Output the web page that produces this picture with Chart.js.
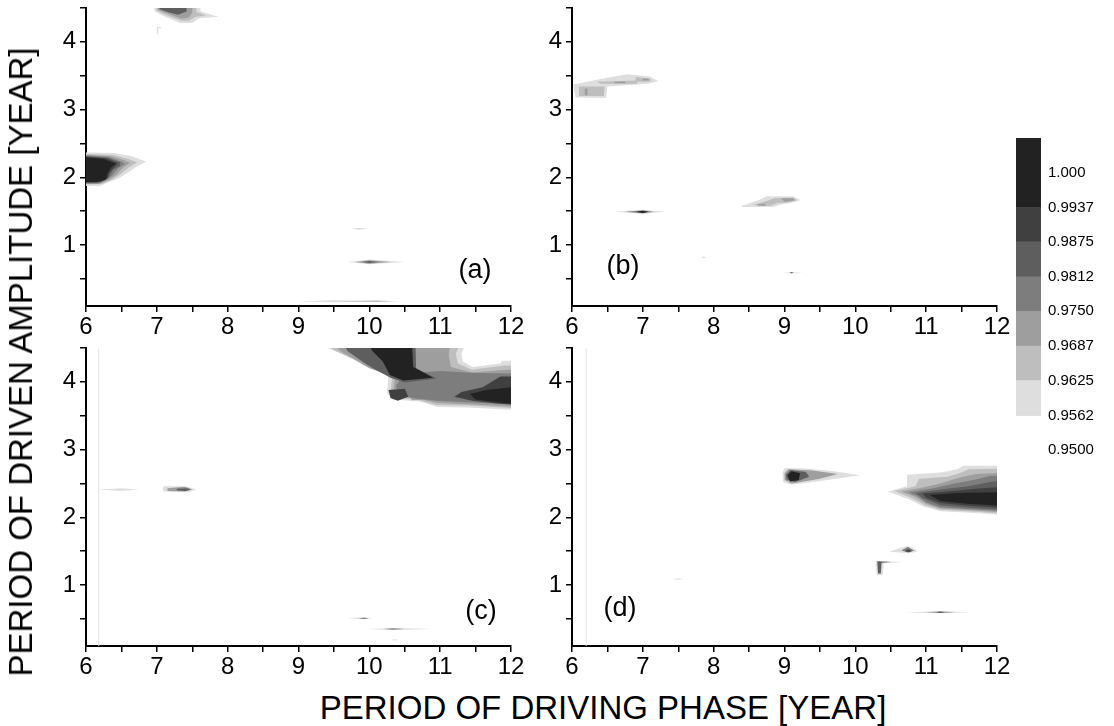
<!DOCTYPE html>
<html>
<head>
<meta charset="utf-8">
<script src="https://cdn.jsdelivr.net/npm/chart.js@4.4.1/dist/chart.umd.min.js"></script>
<style>
  body { margin: 0; background: #fff; width: 1114px; height: 726px; overflow: hidden; position: relative; font-family: "Liberation Sans", Arial, sans-serif; }
  canvas { position: absolute; }
  .tag { position: absolute; font-size: 27px; color: #000; transform: translate(-50%, -50%); white-space: nowrap; }
  .title { position: absolute; font-size: 33px; color: #000; white-space: nowrap; transform: translate(-50%, -50%); }
  #yTitle { transform: translate(-50%, -50%) rotate(-90deg); }
</style>
</head>
<body>
<canvas id="panelA" width="540" height="345" style="left:0;top:0"></canvas>
<canvas id="panelB" width="540" height="345" style="left:486px;top:0"></canvas>
<canvas id="panelC" width="540" height="345" style="left:0;top:340px"></canvas>
<canvas id="panelD" width="540" height="345" style="left:486px;top:340px"></canvas>
<canvas id="colorBar" width="134" height="350" style="left:980px;top:120px"></canvas>

<div class="tag" style="left:475px;top:269px">(a)</div>
<div class="tag" style="left:623px;top:265px">(b)</div>
<div class="tag" style="left:481px;top:610px">(c)</div>
<div class="tag" style="left:620px;top:607px">(d)</div>
<div class="title" id="yTitle" style="left:21px;top:362px">PERIOD OF DRIVEN AMPLITUDE [YEAR]</div>
<div class="title" style="left:603px;top:708px">PERIOD OF DRIVING PHASE [YEAR]</div>

<script>
const FONT = '"Liberation Sans", Arial, sans-serif';

// grey levels, lightest (0.9562) to darkest (1.000)
const levelColors = ["#dedede", "#bebebe", "#9e9e9e", "#7d7d7d", "#5e5e5e", "#404040", "#222222"];
const levelBounds = [0.9562, 0.9625, 0.9687, 0.975, 0.9812, 0.9875, 0.9937, 1.0062];
const colorTicks = [0.95, 0.9562, 0.9625, 0.9687, 0.975, 0.9812, 0.9875, 0.9937, 1.0];
const colorTickLabels = ["0.9500", "0.9562", "0.9625", "0.9687", "0.9750", "0.9812", "0.9875", "0.9937", "1.000"];

const xRange = [6, 12];
const yRange = [0.1, 4.5];

// contour regions: [level, [[period phase, period amplitude], ...]]
const blobsA = [
  [1, [[5.9,2.37],[6.4,2.36],[6.65,2.31],[6.85,2.23],[6.7,2.15],[6.58,2.06],[6.45,1.98],[6.3,1.92],[6.2,1.87],[5.9,1.87]]],
  [2, [[5.9,2.35],[6.38,2.33],[6.6,2.27],[6.72,2.22],[6.6,2.14],[6.48,2.04],[6.36,1.96],[6.22,1.9],[5.9,1.89]]],
  [3, [[5.9,2.34],[6.35,2.31],[6.55,2.25],[6.62,2.21],[6.52,2.14],[6.42,2.03],[6.32,1.96],[6.2,1.91],[5.9,1.9]]],
  [4, [[5.9,2.33],[6.32,2.3],[6.5,2.23],[6.55,2.2],[6.45,2.13],[6.36,2.02],[6.28,1.96],[6.18,1.91],[5.9,1.91]]],
  [5, [[5.9,2.32],[6.3,2.29],[6.48,2.22],[6.48,2.17],[6.38,2.11],[6.32,2.0],[6.25,1.95],[6.15,1.92],[5.9,1.92]]],
  [6, [[5.9,2.31],[6.28,2.28],[6.45,2.21],[6.4,2.15],[6.33,2.07],[6.3,1.98],[6.2,1.93],[5.9,1.92]]],
  [7, [[5.9,2.3],[6.25,2.27],[6.42,2.2],[6.35,2.14],[6.3,2.05],[6.28,1.97],[6.15,1.93],[5.9,1.93]]],
  [1, [[6.95,4.6],[7.6,4.6],[7.62,4.45],[7.87,4.37],[7.6,4.35],[7.5,4.28],[7.33,4.28],[7.1,4.38],[6.97,4.45]]],
  [2, [[6.98,4.6],[7.55,4.6],[7.56,4.44],[7.7,4.39],[7.55,4.37],[7.45,4.31],[7.35,4.31],[7.12,4.4],[7.0,4.46]]],
  [3, [[7.0,4.6],[7.5,4.6],[7.5,4.43],[7.45,4.36],[7.35,4.34],[7.15,4.42],[7.02,4.47]]],
  [5, [[7.02,4.6],[7.42,4.6],[7.42,4.45],[7.3,4.4],[7.15,4.44],[7.04,4.48]]],
  [1, [[7.0,4.22],[7.06,4.22],[7.06,4.2],[7.02,4.2],[7.02,4.12],[7.0,4.12]]],
  [1, [[9.75,1.24],[9.85,1.255],[9.98,1.24],[9.85,1.225]]],
  [1, [[9.7,0.75],[10.0,0.785],[10.5,0.75],[10.0,0.715]]],
  [3, [[9.8,0.75],[10.0,0.775],[10.3,0.75],[10.0,0.725]]],
  [5, [[9.9,0.75],[10.0,0.765],[10.12,0.75],[10.0,0.735]]],
  [1, [[9.0,0.17],[9.5,0.185],[10.5,0.17],[9.5,0.155]]],
  [2, [[9.6,0.17],[10.1,0.18],[10.35,0.17],[10.1,0.16]]],
];

const blobsB = [
  [1, [[6.02,3.37],[6.25,3.42],[6.49,3.47],[6.78,3.52],[7.1,3.49],[7.22,3.42],[7.07,3.38],[6.5,3.34],[6.48,3.17],[6.05,3.18]]],
  [2, [[6.1,3.34],[6.46,3.34],[6.45,3.2],[6.1,3.2]]],
  [2, [[6.35,3.41],[6.92,3.43],[6.92,3.38],[6.4,3.38]]],
  [2, [[6.9,3.48],[7.12,3.45],[7.1,3.41],[6.9,3.41]]],
  [3, [[6.18,3.31],[6.22,3.31],[6.22,3.21],[6.18,3.21]]],
  [3, [[6.6,3.41],[6.75,3.415],[6.75,3.39],[6.6,3.39]]],
  [3, [[7.0,3.46],[7.08,3.46],[7.08,3.43],[7.0,3.43]]],
  [1, [[6.6,1.49],[7.0,1.52],[7.32,1.49],[7.0,1.46]]],
  [4, [[6.75,1.49],[7.0,1.51],[7.15,1.49],[7.0,1.47]]],
  [7, [[6.9,1.49],[7.0,1.505],[7.08,1.49],[7.0,1.475]]],
  [1, [[8.4,1.58],[8.65,1.67],[8.75,1.72],[9.12,1.72],[9.23,1.66],[9.08,1.62],[8.95,1.6],[8.84,1.56],[8.4,1.56]]],
  [2, [[8.55,1.59],[8.75,1.65],[8.85,1.69],[9.12,1.7],[9.18,1.66],[9.05,1.63],[8.9,1.62],[8.8,1.58]]],
  [3, [[8.95,1.69],[9.12,1.69],[9.15,1.66],[9.0,1.64]]],
  [3, [[8.62,1.6],[8.72,1.61],[8.74,1.58],[8.62,1.58]]],
  [1, [[7.82,0.82],[7.86,0.83],[7.9,0.82],[7.86,0.81]]],
  [1, [[8.97,0.59],[9.1,0.6],[9.26,0.59],[9.1,0.58]]],
  [6, [[9.07,0.59],[9.1,0.597],[9.13,0.59],[9.1,0.583]]],
];

const blobsC = [
  [1, [[9.15,4.6],[11.38,4.6],[11.3,4.42],[11.32,4.3],[11.46,4.22],[11.85,4.27],[11.87,4.31],[12.1,4.31],[12.1,3.58],[11.99,3.59],[11.38,3.62],[10.96,3.63],[10.72,3.71],[10.32,3.74],[10.25,3.84],[10.27,4.07],[10.15,4.18],[9.91,4.25],[9.76,4.35],[9.45,4.48]]],
  [2, [[9.3,4.6],[11.3,4.6],[11.22,4.42],[11.25,4.27],[11.45,4.18],[11.9,4.24],[12.1,4.24],[12.1,3.61],[11.4,3.65],[10.95,3.66],[10.7,3.73],[10.36,3.77],[10.3,3.85],[10.32,4.05],[10.18,4.15],[9.95,4.23],[9.8,4.32],[9.5,4.47]]],
  [3, [[9.45,4.6],[11.15,4.6],[11.12,4.4],[11.15,4.22],[11.45,4.14],[11.95,4.18],[12.1,4.18],[12.1,3.63],[11.4,3.67],[10.95,3.69],[10.7,3.75],[10.4,3.79],[10.34,3.86],[10.36,4.03],[10.22,4.12],[10.0,4.2],[9.85,4.3],[9.6,4.45]]],
  [4, [[10.5,4.12],[11.0,4.16],[11.5,4.13],[12.1,4.12],[12.1,3.66],[11.4,3.7],[10.95,3.72],[10.6,3.76],[10.4,3.82],[10.38,3.95]]],
  [5, [[9.6,4.6],[10.65,4.6],[10.66,4.2],[10.95,4.05],[10.5,3.99],[10.3,4.06],[10.05,4.2],[9.9,4.3],[9.7,4.45]]],
  [7, [[9.95,4.6],[10.6,4.6],[10.62,4.22],[10.9,4.06],[10.48,4.02],[10.29,4.1],[10.19,4.3],[10.05,4.45]]],
  [3, [[10.55,3.93],[11.0,3.95],[11.05,3.75],[10.6,3.73]]],
  [6, [[10.27,3.88],[10.5,3.9],[10.55,3.78],[10.4,3.72],[10.3,3.76]]],
  [6, [[11.3,3.85],[11.6,3.92],[11.85,4.08],[12.1,4.08],[12.1,3.66],[11.8,3.68],[11.45,3.72],[11.2,3.78]]],
  [7, [[11.42,3.82],[11.65,3.88],[12.1,3.93],[12.1,3.67],[11.8,3.7],[11.5,3.74]]],
  [2, [[10.9,3.98],[11.15,4.04],[11.4,3.97],[11.15,3.9]]],
  [1, [[11.05,3.97],[11.15,4.0],[11.25,3.96],[11.15,3.93]]],
  [1, [[6.18,2.41],[6.5,2.43],[6.75,2.41],[6.5,2.39]]],
  [1, [[7.08,2.42],[7.1,2.46],[7.4,2.46],[7.56,2.41],[7.45,2.37],[7.1,2.38]]],
  [3, [[7.15,2.43],[7.4,2.45],[7.5,2.41],[7.4,2.38],[7.15,2.39]]],
  [5, [[7.28,2.42],[7.42,2.43],[7.48,2.41],[7.4,2.39],[7.28,2.4]]],
  [1, [[9.7,0.51],[9.9,0.525],[10.05,0.51],[9.9,0.495]]],
  [5, [[9.85,0.51],[9.93,0.518],[9.99,0.51],[9.93,0.502]]],
  [1, [[9.97,0.35],[10.35,0.365],[10.95,0.35],[10.35,0.335]]],
  [5, [[10.2,0.35],[10.33,0.358],[10.5,0.35],[10.33,0.342]]],
  [1, [[10.3,0.19],[10.36,0.2],[10.42,0.19],[10.36,0.18]]],
];

const blobsD = [
  [1, [[8.97,2.65],[9.0,2.73],[9.3,2.72],[9.7,2.68],[10.07,2.62],[9.8,2.58],[9.4,2.52],[9.1,2.48],[8.98,2.52]]],
  [3, [[9.0,2.65],[9.05,2.71],[9.4,2.69],[9.75,2.64],[9.5,2.57],[9.1,2.5],[9.0,2.55]]],
  [5, [[9.02,2.63],[9.08,2.7],[9.3,2.67],[9.35,2.6],[9.15,2.52],[9.03,2.56]]],
  [7, [[9.04,2.62],[9.1,2.68],[9.22,2.65],[9.2,2.55],[9.08,2.53]]],
  [1, [[10.46,2.38],[10.73,2.46],[10.73,2.63],[11.2,2.66],[11.44,2.71],[11.52,2.76],[12.1,2.76],[12.1,2.03],[11.76,2.06],[11.2,2.09],[10.96,2.16],[10.77,2.26]]],
  [2, [[10.55,2.39],[10.85,2.46],[10.9,2.57],[11.3,2.6],[11.5,2.66],[11.6,2.71],[12.1,2.72],[12.1,2.05],[11.76,2.08],[11.2,2.11],[10.98,2.18],[10.8,2.28]]],
  [3, [[10.65,2.38],[10.95,2.44],[11.2,2.5],[11.45,2.58],[11.7,2.64],[12.1,2.66],[12.1,2.07],[11.7,2.1],[11.2,2.13],[11.0,2.2],[10.85,2.3]]],
  [4, [[10.75,2.37],[11.1,2.43],[11.4,2.5],[11.7,2.56],[11.9,2.61],[12.1,2.62],[12.1,2.09],[11.6,2.12],[11.2,2.15],[11.0,2.22],[10.88,2.31]]],
  [5, [[10.85,2.36],[11.2,2.41],[11.6,2.46],[11.9,2.52],[12.1,2.55],[12.1,2.11],[11.6,2.14],[11.2,2.18],[10.95,2.28]]],
  [6, [[10.95,2.35],[11.3,2.38],[11.7,2.42],[12.1,2.45],[12.1,2.14],[11.6,2.17],[11.2,2.21],[11.0,2.29]]],
  [7, [[11.05,2.33],[11.44,2.36],[12.1,2.37],[12.1,2.17],[11.58,2.2],[11.2,2.24]]],
  [1, [[10.48,1.49],[10.62,1.54],[10.74,1.58],[10.85,1.53],[10.87,1.49],[10.75,1.47]]],
  [4, [[10.65,1.51],[10.74,1.56],[10.83,1.51],[10.75,1.48]]],
  [6, [[10.7,1.5],[10.75,1.53],[10.8,1.5],[10.75,1.49]]],
  [1, [[10.29,1.36],[10.68,1.34],[10.4,1.32],[10.39,1.15],[10.3,1.15]]],
  [5, [[10.31,1.35],[10.5,1.34],[10.37,1.33],[10.36,1.17],[10.32,1.17]]],
  [1, [[10.72,0.6],[11.2,0.615],[11.63,0.6],[11.2,0.585]]],
  [4, [[11.0,0.6],[11.2,0.608],[11.4,0.6],[11.2,0.592]]],
  [7, [[11.14,0.6],[11.2,0.606],[11.26,0.6],[11.2,0.594]]],
  [1, [[7.42,1.09],[7.5,1.1],[7.58,1.09],[7.5,1.08]]],
];

// faint vertical trace near the left edge of (c) and (d)
const faintLineC = [[6.18, 0.1], [6.18, 4.5]];
const faintLineD = [[6.2, 0.1], [6.2, 4.5]];

function toPoints(pts) {
  return pts.map(([x, y]) => ({ x, y }));
}

function blobDataset([level, pts]) {
  return {
    data: toPoints(pts.concat([pts[0]])),
    showLine: true,
    fill: "shape",
    backgroundColor: levelColors[level - 1],
    borderWidth: 0,
    pointRadius: 0,
    order: 10 - level,
  };
}

function axisTicks(size) {
  return {
    stepSize: 0.5,
    includeBounds: false,
    autoSkip: false,
    maxRotation: 0,
    color: "#000",
    font: { family: FONT, size },
    callback: (v) => (Number.isInteger(v) ? String(v) : ""),
  };
}

const axisGrid = { drawOnChartArea: false, drawTicks: true, tickLength: 6, color: "#000", lineWidth: 1.5 };
const axisBorder = { display: true, color: "#000", width: 2 };

function panelConfig(blobs, faintLine) {
  const datasets = blobs.map(blobDataset);
  if (faintLine) {
    datasets.push({
      data: toPoints(faintLine),
      showLine: true,
      borderColor: "#e4e4e4",
      borderWidth: 1,
      pointRadius: 0,
      order: 20,
    });
  }
  return {
    type: "scatter",
    data: { datasets },
    options: {
      responsive: false,
      animation: false,
      events: [],
      layout: { padding: { left: 46, top: 8, right: 29, bottom: 9 } },
      plugins: { legend: { display: false }, tooltip: { enabled: false } },
      scales: {
        x: {
          type: "linear",
          min: xRange[0],
          max: xRange[1],
          ticks: { ...axisTicks(24), padding: 1 },
          grid: axisGrid,
          border: axisBorder,
          afterFit: (s) => { s.height = 30; s.paddingLeft = 0; s.paddingRight = 0; },
        },
        y: {
          type: "linear",
          min: yRange[0],
          max: yRange[1],
          ticks: { ...axisTicks(24), padding: 4 },
          grid: axisGrid,
          border: axisBorder,
          afterFit: (s) => { s.width = 40; s.paddingTop = 0; s.paddingBottom = 0; },
        },
      },
    },
  };
}

new Chart(document.getElementById("panelA"), panelConfig(blobsA));
new Chart(document.getElementById("panelB"), panelConfig(blobsB));
new Chart(document.getElementById("panelC"), panelConfig(blobsC, faintLineC));
new Chart(document.getElementById("panelD"), panelConfig(blobsD, faintLineD));

// colour scale as floating bars
new Chart(document.getElementById("colorBar"), {
  type: "bar",
  data: {
    labels: ["z"],
    datasets: levelColors.map((c, i) => ({
      data: [[levelBounds[i], levelBounds[i + 1]]],
      backgroundColor: c,
      borderWidth: 0,
      grouped: false,
      barPercentage: 1,
      categoryPercentage: 1,
    })),
  },
  options: {
    responsive: false,
    animation: false,
    events: [],
    layout: { padding: { left: 36, top: 18, right: 3, bottom: 20 } },
    plugins: { legend: { display: false }, tooltip: { enabled: false } },
    scales: {
      x: { display: false },
      y: {
        position: "right",
        min: colorTicks[0],
        max: levelBounds[levelBounds.length - 1],
        afterBuildTicks: (s) => { s.ticks = colorTicks.map((value) => ({ value })); },
        ticks: {
          padding: 7,
          color: "#000",
          font: { family: FONT, size: 15 },
          callback: (v, i) => colorTickLabels[i],
        },
        grid: { display: false, drawTicks: false },
        border: { display: false },
        afterFit: (s) => { s.width = 70; s.paddingTop = 0; s.paddingBottom = 0; },
      },
    },
  },
});
</script>
</body>
</html>
